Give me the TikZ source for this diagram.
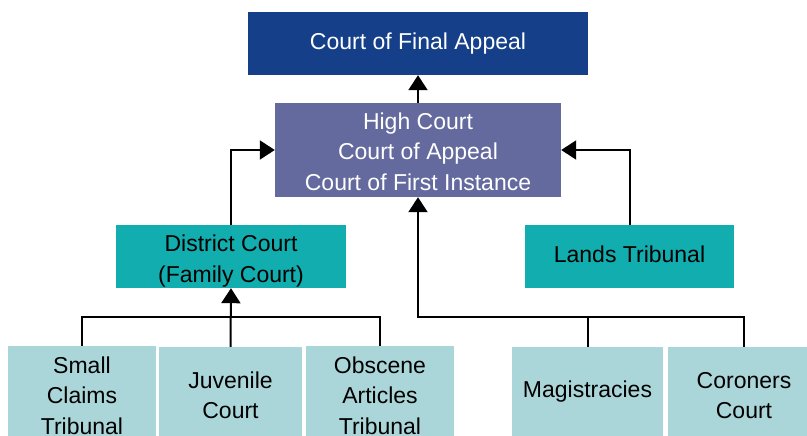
\documentclass[tikz,border=0pt]{standalone}
\usepackage{fontspec}
\setmainfont{Liberation Sans}
\usetikzlibrary{arrows.meta}
\definecolor{fablue}{HTML}{153F89}
\definecolor{hcblue}{HTML}{646A9E}
\definecolor{teal2}{HTML}{12ADAE}
\definecolor{light}{HTML}{ABD6D9}
\newcommand\mlines[2]{\raisebox{#1}[\height][\depth]{\begin{tabular}{@{}c@{}}#2\end{tabular}}}
\begin{document}
\begin{tikzpicture}[x=1pt,y=-1pt,
  box/.style={draw=none,inner sep=0pt,font=\fontsize{23}{30.5}\selectfont},
  arr/.style={line width=2pt,-{Triangle[width=19pt,length=15pt]}},
  ln/.style={line width=2pt}]
\useasboundingbox (0,0) rectangle (807,436);
\clip (0,0) rectangle (807,436);
\node[box,fill=fablue,text=white,minimum width=340pt,minimum height=63pt] (fa) at (418,43.5) {Court of Final Appeal};
\node[box,fill=hcblue,text=white,minimum width=286pt,minimum height=94pt] (hc) at (418,150) {\mlines{-3.5pt}{High Court\\Court of Appeal\\Court of First Instance}};
\node[box,fill=teal2,minimum width=230pt,minimum height=63pt] (dc) at (231,256.5) {\mlines{-4.5pt}{District Court\\(Family Court)}};
\node[box,fill=teal2,minimum width=209pt,minimum height=63pt,text depth=4pt] (lt) at (629.5,256.5) {Lands Tribunal};
\node[box,fill=light,minimum width=148pt,minimum height=89pt] (sc) at (82,391.5) {\mlines{-6pt}{Small\\Claims\\Tribunal}};
\node[box,fill=light,minimum width=143pt,minimum height=89pt] (jc) at (230.5,391.5) {\mlines{-6pt}{Juvenile\\Court}};
\node[box,fill=light,minimum width=148pt,minimum height=89pt] (oa) at (380,391.5) {\mlines{-6pt}{Obscene\\Articles\\Tribunal}};
\node[box,fill=light,minimum width=151pt,minimum height=89pt] (ma) at (587.5,391.5) {Magistracies};
\node[box,fill=light,minimum width=152pt,minimum height=89pt] (co) at (744,391.5) {\mlines{-6pt}{Coroners\\Court}};
\coordinate (lb) at (82,317);
\coordinate (rb) at (418,317);
\draw[arr] (hc.north) -- (fa.south);
\draw[arr] (dc.north) |- (hc.west);
\draw[arr] (lt.north) |- (hc.east);
\draw[ln] (sc.north) -- (lb) -| (oa.north);
\draw[arr] (jc.north) -- (dc.south);
\draw[arr] (co.north) |- (rb) -- (hc.south);
\draw[ln] (ma.north) -- (ma.north |- rb);
\end{tikzpicture}
\end{document}
